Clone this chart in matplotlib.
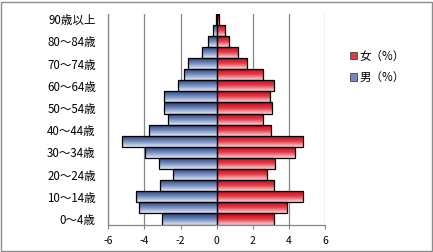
import matplotlib
matplotlib.use('Agg')
import matplotlib.pyplot as plt
import numpy as np
from matplotlib.colors import LinearSegmentedColormap
from matplotlib.patches import Patch, Rectangle

plt.rcParams['font.family'] = ['Noto Sans CJK JP', 'DejaVu Sans']

# 年齢階級（下から上）
age_groups = ['0～4歳', '5～9歳', '10～14歳', '15～19歳', '20～24歳', '25～29歳',
              '30～34歳', '35～39歳', '40～44歳', '45～49歳', '50～54歳', '55～59歳',
              '60～64歳', '65～69歳', '70～74歳', '75～79歳', '80～84歳', '85～89歳',
              '90歳以上']
male = [-3.02, -4.30, -4.46, -3.13, -2.44, -3.19, -3.96, -5.24, -3.74, -2.69,
        -2.91, -2.91, -2.13, -1.80, -1.57, -0.80, -0.46, -0.19, -0.05]
female = [3.15, 3.87, 4.76, 3.15, 2.76, 3.20, 4.31, 4.76, 2.98, 2.54,
          3.04, 2.93, 3.15, 2.54, 1.70, 1.20, 0.70, 0.44, 0.12]
x_ticks = [-6, -4, -2, 0, 2, 4, 6]

GRID = '#868686'
BLUE = ['#E4E9F4', '#7088BA', '#1F3A76']   # 下 → 上
RED = ['#F8D6DA', '#E23A48', '#C00010']


def gradient_bars(ax, bars, colors):
    cmap = LinearSegmentedColormap.from_list('g', colors)
    grad = np.linspace(0, 1, 64).reshape(-1, 1)
    for b in bars:
        x, y = b.get_x(), b.get_y()
        w, h = b.get_width(), b.get_height()
        im = ax.imshow(grad, cmap=cmap, aspect='auto', origin='lower',
                       extent=[x, x + w, y, y + h], zorder=1.5,
                       interpolation='bilinear')
        im.set_clip_path(b)


fig = plt.figure(figsize=(4.33, 2.52), dpi=100)
ax = fig.add_axes([0.25, 0.109, 0.501, 0.837])

ypos = np.arange(len(age_groups))
bars_m = ax.barh(ypos, male, height=1.0, facecolor='none',
                 edgecolor='black', linewidth=0.9, zorder=2)
bars_f = ax.barh(ypos, female, height=1.0, facecolor='none',
                 edgecolor='black', linewidth=0.9, zorder=2)
gradient_bars(ax, bars_m, BLUE)
gradient_bars(ax, bars_f, RED)

ax.set_xlim(-6, 6)
ax.set_ylim(-0.5, len(age_groups) - 0.5)
ax.set_xticks(x_ticks)
ax.set_xticklabels([str(v) for v in x_ticks], fontsize=7.5)
ax.set_yticks(ypos[::2])
ax.set_yticklabels(age_groups[::2], fontsize=8.3)
ax.tick_params(axis='y', length=0, pad=9)
ax.tick_params(axis='x', length=3, color=GRID, pad=5)

ax.grid(axis='x', color=GRID, linewidth=0.9, zorder=0)
ax.set_axisbelow(True)
for s in ['top', 'right']:
    ax.spines[s].set_visible(False)
for s in ['left', 'bottom']:
    ax.spines[s].set_color(GRID)
    ax.spines[s].set_linewidth(0.9)

handles = [Patch(facecolor=RED[1], edgecolor='#404040', linewidth=0.6),
           Patch(facecolor=BLUE[1], edgecolor='#404040', linewidth=0.6)]
fig.legend(handles, ['女（%）', '男（%）'], loc='upper left',
           bbox_to_anchor=(0.785, 0.845), frameon=False, fontsize=8.3,
           handlelength=0.6, handleheight=0.6, handletextpad=0.2,
           labelspacing=0.75)

fig.patches.append(Rectangle((0.002, 0.004), 0.995, 0.99,
                             transform=fig.transFigure, fill=False,
                             edgecolor='#8c8c8c', linewidth=1.0))

fig.savefig('out.png', dpi=100)
